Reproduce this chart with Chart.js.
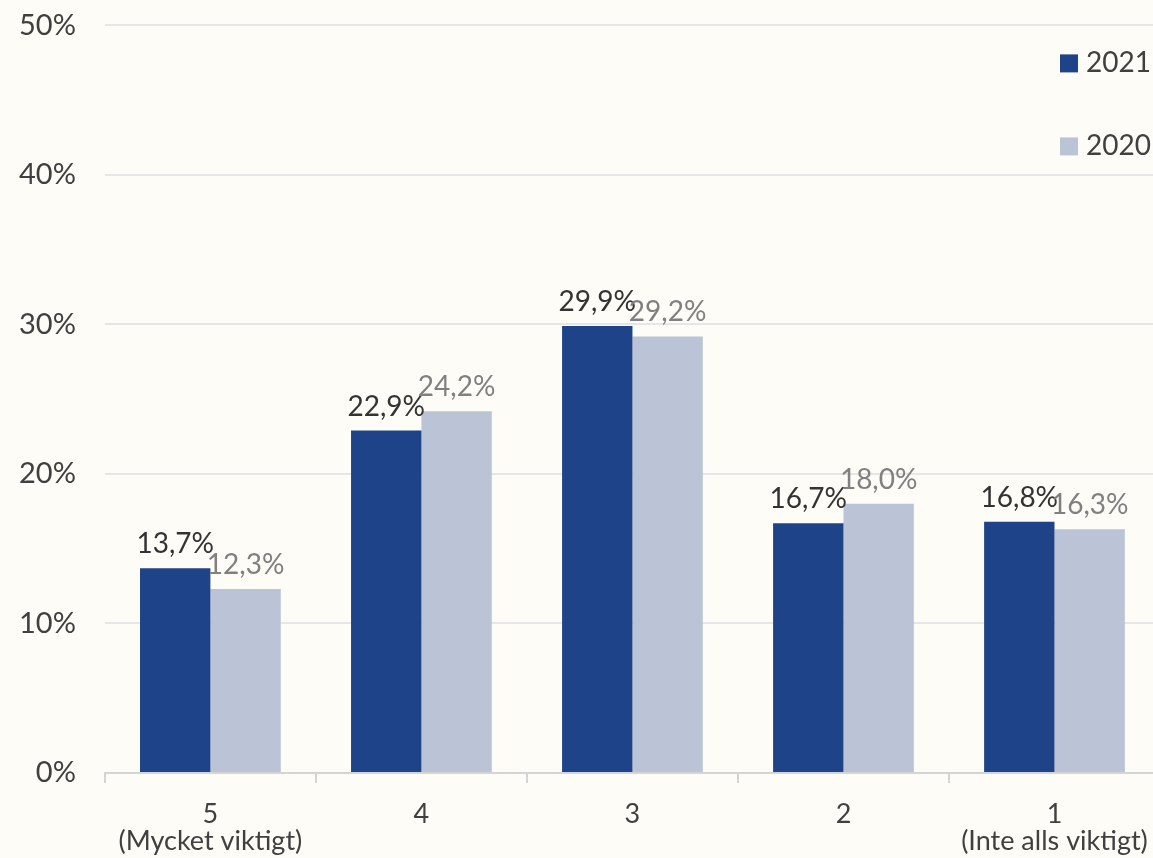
<!DOCTYPE html>
<html><head><meta charset="utf-8">
<script src="https://cdn.jsdelivr.net/npm/chart.js@4/dist/chart.umd.min.js"></script>
<style>
html,body{margin:0;padding:0;background:#fdfcf6;overflow:hidden;}
#wrap{position:relative;width:1160px;height:879px;margin-top:-21px;}
</style></head><body>
<div id="wrap"><canvas id="c"></canvas></div>
<script>
const categories = [["5","(Mycket viktigt)"],["4",""],["3",""],["2",""],["1","(Inte alls viktigt)"]];
const series2021 = [13.7, 22.9, 29.9, 16.7, 16.8];
const series2020 = [12.3, 24.2, 29.2, 18.0, 16.3];
const seriesNames = ["2021","2020"];
const yTicks = [0,10,20,30,40,50];

const FONT = "Lato, 'DejaVu Sans', sans-serif";
const labelColors = ["#333333","#808080"];

const dataLabels = {
  id:'dataLabels',
  afterDatasetsDraw(chart){
    const ctx = chart.ctx;
    ctx.save();
    ctx.font = "28px " + FONT;
    ctx.textAlign = 'center';
    ctx.textBaseline = 'alphabetic';
    chart.data.datasets.forEach((ds,di)=>{
      const meta = chart.getDatasetMeta(di);
      ctx.fillStyle = labelColors[di];
      meta.data.forEach((bar,i)=>{
        const txt = ds.data[i].toFixed(1).replace('.',',') + '%';
        ctx.fillText(txt, bar.x, bar.y - 15);
      });
    });
    ctx.restore();
  }
};

const customLegend = {
  id:'customLegend',
  afterDraw(chart){
    const ctx = chart.ctx;
    ctx.save();
    ctx.font = "28px " + FONT;
    ctx.textBaseline = 'middle';
    ctx.textAlign = 'left';
    const top = chart.chartArea.top;
    const ys = [top + 38, top + 121];
    chart.data.datasets.forEach((ds,di)=>{
      ctx.fillStyle = ds.backgroundColor;
      ctx.fillRect(1060, ys[di]-9, 18, 18);
      ctx.fillStyle = '#404040';
      ctx.fillText(ds.label, 1086, ys[di]);
    });
    ctx.restore();
  }
};

new Chart(document.getElementById('c'), {
  type:'bar',
  data:{
    labels: categories,
    datasets:[
      {label:seriesNames[0], data:series2021, backgroundColor:'#1f4388'},
      {label:seriesNames[1], data:series2020, backgroundColor:'#bac4d6'}
    ]
  },
  options:{
    responsive:true,
    maintainAspectRatio:false,
    animation:false,
    layout:{padding:{top:0,right:0,left:-10,bottom:-15}},
    plugins:{legend:{display:false}, tooltip:{enabled:false}},
    datasets:{bar:{barPercentage:1, categoryPercentage:0.667}},
    scales:{
      x:{
        afterFit(scale){ scale.paddingLeft = 0; scale.paddingRight = 0; },
        grid:{display:true, drawOnChartArea:false, drawTicks:true, tickLength:10, color:'#d4d4d4', lineWidth:2, offset:true},
        border:{display:true, color:'#d4d4d4', width:2},
        ticks:{color:'#404040', font:{family:FONT, size:27, lineHeight:1.0}, padding:18, maxRotation:0, autoSkip:false}
      },
      y:{
        min:0, max:50,
        afterBuildTicks(axis){ axis.ticks = yTicks.map(v=>({value:v})); },
        grid:{color:'#e6e6e6', lineWidth:2, drawTicks:false},
        border:{display:false},
        ticks:{color:'#404040', font:{family:FONT, size:29}, padding:29, callback:v=>v+'%'}
      }
    }
  },
  plugins:[dataLabels, customLegend]
});
</script>
</body></html>
